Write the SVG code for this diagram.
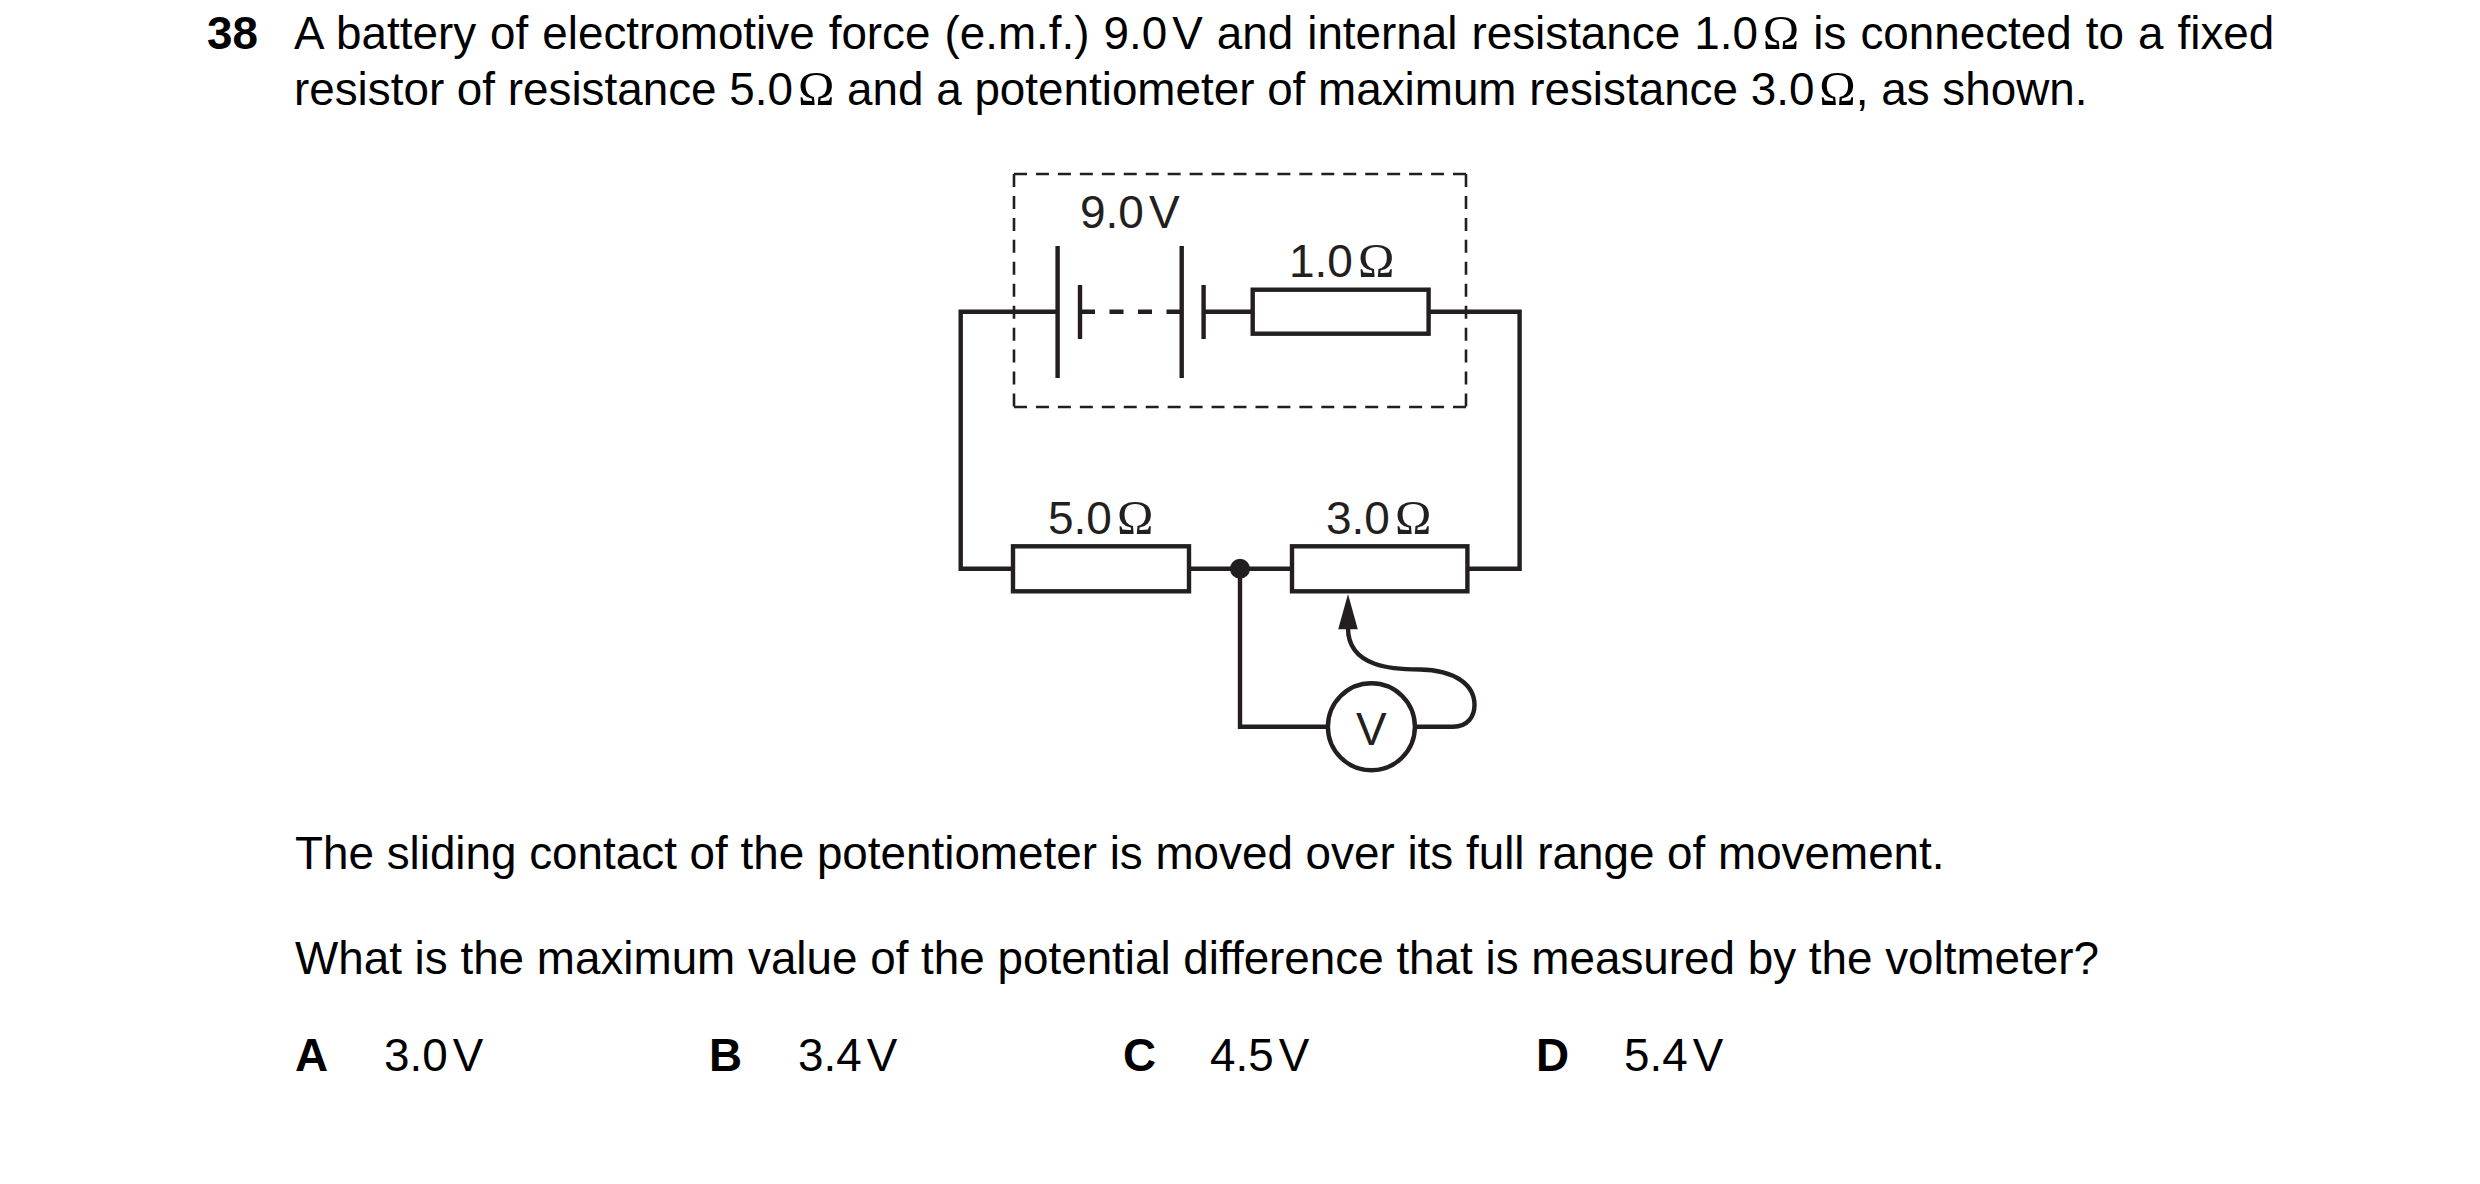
<svg xmlns="http://www.w3.org/2000/svg" width="2480" height="1184" viewBox="0 0 2480 1184">
<style>
text{font-family:"Liberation Sans",Arial,sans-serif;font-size:45.8px;fill:#000}
.b{font-weight:bold}
.o{font-family:"Liberation Serif","Times New Roman",serif;font-size:49px}
.l{fill:#231f20;font-size:46px}
.w{fill:none;stroke:#231f20;stroke-width:4.4}
.r{fill:#fff;stroke:#231f20;stroke-width:4.4}
.d{fill:none;stroke:#231f20;stroke-width:2.6;stroke-dasharray:13 8.95}
</style>
<rect width="2480" height="1184" fill="#fff"/>
<g id="question">
<text class="b" x="207" y="49">38</text>
<text x="294" y="49" word-spacing="1.3">A battery of electromotive force (e.m.f.) 9.0<tspan dx="5">V and internal resistance 1.0</tspan><tspan class="o" dx="5">Ω</tspan> is connected to a fixed</text>
<text x="294" y="105">resistor of resistance 5.0<tspan class="o" dx="5">Ω</tspan> and a potentiometer of maximum resistance 3.0<tspan class="o" dx="5">Ω</tspan>, as shown.</text>
<text x="295" y="869">The sliding contact of the potentiometer is moved over its full range of movement.</text>
<text x="295" y="974">What is the maximum value of the potential difference that is measured by the voltmeter?</text>
</g>
<g id="connectors">
<path class="d" d="M1014 174H1466M1014 407H1466M1014 174V407M1466 174V407"/>
<path class="w" d="M1057.6 311.7H960.7V568.7H1013M1189 568.7H1292M1467.4 568.7H1519.6V311.7H1428.6M1252.7 311.7H1203.6M1240 568.7V726.7H1328M1415 726.7H1453C1468 726.7 1474.5 716 1474.5 705C1474.5 685 1455 670 1420 669.5C1395 669.5 1348 668 1348 628"/>
<path class="w" stroke-dasharray="14 14.5" d="M1081 311.7H1182"/>
</g>
<g id="battery">
<path class="w" d="M1057.6 246V378M1080 285V339M1181.7 246V378M1203.6 285V339"/>
<text class="l" x="1080" y="228">9.0<tspan dx="5">V</tspan></text>
</g>
<g id="r1"><rect class="r" x="1252.7" y="289.7" width="175.9" height="44"/>
<text class="l" x="1289" y="277">1.0<tspan class="o" dx="5">Ω</tspan></text></g>
<g id="r2"><rect class="r" x="1013" y="546.3" width="176" height="45"/>
<text class="l" x="1048" y="534">5.0<tspan class="o" dx="5">Ω</tspan></text></g>
<g id="pot"><rect class="r" x="1292" y="546.3" width="175.4" height="45"/>
<text class="l" x="1326" y="534">3.0<tspan class="o" dx="5">Ω</tspan></text>
<path fill="#231f20" d="M1348 594L1357.8 629.3H1338.2Z"/></g>
<g id="junction"><circle cx="1240" cy="568.7" r="10" fill="#231f20"/></g>
<g id="voltmeter"><circle class="r" cx="1371.4" cy="726.7" r="43.5"/>
<text class="l" x="1371.4" y="745" text-anchor="middle">V</text></g>
<g id="options">
<text class="b" x="295" y="1071">A</text><text x="384" y="1071">3.0<tspan dx="5">V</tspan></text>
<text class="b" x="709" y="1071">B</text><text x="798" y="1071">3.4<tspan dx="5">V</tspan></text>
<text class="b" x="1123" y="1071">C</text><text x="1210" y="1071">4.5<tspan dx="5">V</tspan></text>
<text class="b" x="1536" y="1071">D</text><text x="1624" y="1071">5.4<tspan dx="5">V</tspan></text>
</g>
</svg>
